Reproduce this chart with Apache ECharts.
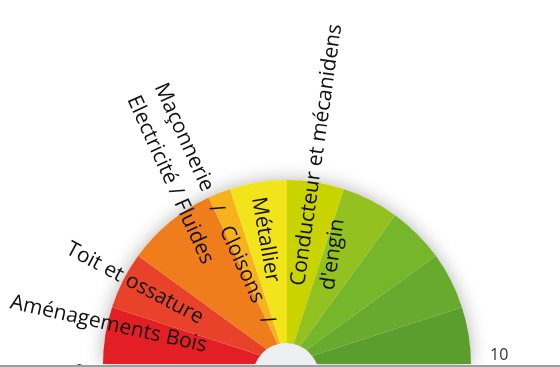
<!DOCTYPE html>
<html>
<head>
<meta charset="utf-8">
<script src="https://cdn.jsdelivr.net/npm/echarts@6/dist/echarts.min.js"></script>
<style>
  html, body { margin: 0; padding: 0; background: #fff; }
  #chart { width: 560px; height: 367px; }
</style>
</head>
<body>
<div id="chart"></div>
<script>
// bandes de couleur du demi-cercle (largeur sur l'échelle 0 - 10)
const sectorValues = [1, 1, 1.6, 0.4, 1, 1, 1, 1, 1, 1]
const sectorColors = ['#e31e25', '#e8432a', '#ef7d1c', '#f8b21d', '#f2e41b',
  '#c8d300', '#93c11f', '#75b62a', '#68aa2d', '#5b9e2d']

// métiers : position sur l'échelle 0 - 10 et rayon (en % du rayon) où commence le texte
const labelNames = ['Aménagements Bois', 'Toit et ossature',
  'Maçonnerie   /   Cloisons   /\nElectricité / Fluides', 'Métallier',
  'Conducteur et mécanidens\nd\'engin']
const labelAngle = [0.7, 1.55, 3.64, 4.45, 5.45]
const labelRadius = [154, 135, 167, 92, 43]

// graduations affichées
const tickLabels = [0, 10]

const CX = 287
const CY = 364
const R = 184
const LINE_H = 30

const chart = echarts.init(document.getElementById('chart'))

const option = {
  animation: false,
  polar: { center: [CX, CY], radius: R },
  angleAxis: {
    type: 'value',
    min: 0,
    max: 20,
    interval: 10,
    startAngle: 180,
    clockwise: true,
    axisLine: { show: false },
    axisTick: { show: false },
    splitLine: { show: false },
    axisLabel: {
      margin: 19,
      color: '#333',
      fontSize: 16,
      fontFamily: 'Open Sans',
      formatter: function (v) {
        if (v === tickLabels[0]) return '{lo|' + v + '}'
        if (v === tickLabels[1]) return '{hi|' + v + '}'
        return ''
      },
      rich: {
        lo: { fontSize: 16, fontFamily: 'Open Sans', color: '#333', padding: [14, 0, 0, 0] },
        hi: { fontSize: 16, fontFamily: 'Open Sans', color: '#333', padding: [0, 0, 17, 0] }
      }
    }
  },
  radiusAxis: { type: 'value', min: 0, max: 100, show: false },
  series: [
    // fond blanc qui porte l'ombre
    {
      type: 'pie',
      center: [CX, CY],
      radius: [0, R],
      startAngle: 180,
      endAngle: 360,
      silent: true,
      label: { show: false },
      labelLine: { show: false },
      itemStyle: { color: '#fff', shadowBlur: 18, shadowColor: 'rgba(0,0,0,0.3)' },
      data: [{ value: 1 }]
    },
    // secteurs colorés
    {
      type: 'pie',
      center: [CX, CY],
      radius: [0, R],
      startAngle: 180,
      endAngle: 360,
      silent: true,
      label: { show: false },
      labelLine: { show: false },
      data: sectorValues.map((v, i) => ({
        value: v,
        itemStyle: { color: sectorColors[i] }
      }))
    },
    // libellés radiaux
    {
      type: 'custom',
      coordinateSystem: 'polar',
      clip: false,
      silent: true,
      z: 10,
      data: labelAngle.map((a, i) => [labelRadius[i], a]),
      renderItem: function (params, api) {
        const p = api.coord([api.value(0), api.value(1)])
        const cs = params.coordSys
        const phi = Math.atan2(p[1] - cs.cy, p[0] - cs.cx)
        const onLeft = Math.cos(phi) < 0
        return {
          type: 'group',
          x: p[0],
          y: p[1],
          rotation: onLeft ? Math.PI - phi : -phi,
          children: [{
            type: 'text',
            y: -LINE_H / 2,
            style: {
              text: labelNames[params.dataIndex],
              font: '21px "Open Sans"',
              fill: '#111',
              align: 'left',
              verticalAlign: 'top',
              lineHeight: LINE_H
            }
          }]
        }
      }
    }
  ],
  graphic: [
    {
      type: 'circle',
      z: 100,
      shape: { cx: CX - 1, cy: CY + 12, r: 33 },
      style: { fill: '#eeeff2' }
    },
    {
      type: 'rect',
      z: 100,
      left: 0,
      bottom: 0,
      shape: { width: 560, height: 2 },
      style: { fill: '#9e9e9e' }
    }
  ]
}

chart.setOption(option)
</script>
</body>
</html>
